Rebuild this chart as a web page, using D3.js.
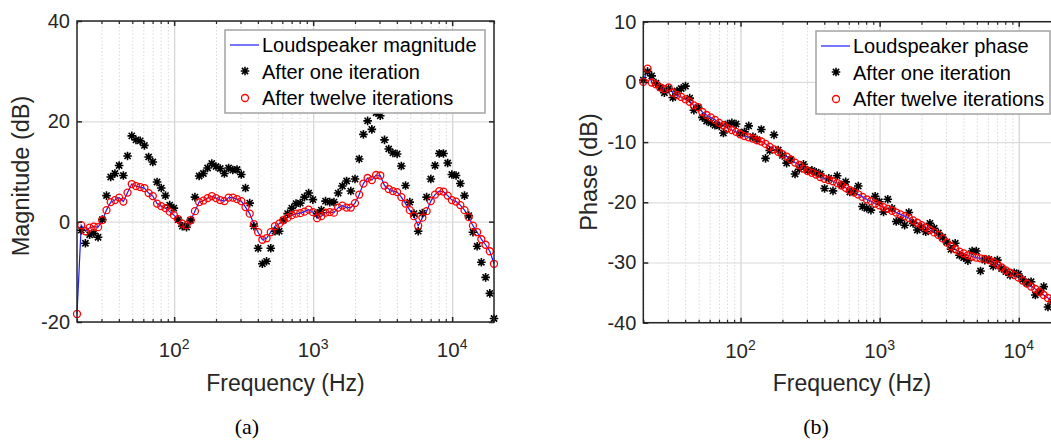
<!DOCTYPE html>
<html>
<head>
<meta charset="utf-8">
<script src="https://cdn.jsdelivr.net/npm/d3@7"></script>
<style>
body { margin:0; background:#fff; }
svg { display:block; font-family:"Liberation Sans", Arial, sans-serif; }
</style>
</head>
<body>
<div id="chart"></div>
<script>
// Frequency grid (Hz)
let freqs = [20, 21.45, 22.99, 24.65, 26.44, 28.35, 30.40, 32.60, 34.96, 37.48,
  40.19, 43.10, 46.21, 49.55, 53.13, 56.97, 61.09, 65.51, 70.24, 75.32,
  80.76, 86.60, 92.86, 99.54, 106.7, 114.5, 122.7, 131.6, 141.1, 151.3,
  162.2, 174.0, 186.6, 200.0, 214.5, 229.9, 246.5, 264.4, 283.5, 304.0,
  326.0, 349.6, 374.8, 401.9, 431.0, 462.1, 495.5, 531.3, 569.7, 610.9,
  655.1, 702.4, 753.2, 807.6, 866.0, 928.6, 995.4, 1067, 1145, 1227,
  1316, 1411, 1513, 1622, 1740, 1866, 2000, 2145, 2299, 2465,
  2644, 2835, 3040, 3260, 3496, 3748, 4019, 4310, 4621, 4955,
  5313, 5697, 6109, 6551, 7024, 7532, 8076, 8660, 9286, 9954,
  10670, 11450, 12270, 13160, 14110, 15130, 16220, 17400, 18660, 20000];

// (a) magnitude, dB
let magSpeaker = [-18.4, -0.7, -1.9, -1.2, -1.0, -1.1, 0.3, 2.3, 3.9, 4.3,
  4.8, 4.0, 5.8, 7.5, 7.1, 6.9, 6.7, 5.7, 5.1, 3.6,
  3.1, 2.7, 2.0, 1.3, 0.5, -0.4, -0.7, 0.3, 2.1, 3.9,
  4.2, 4.7, 5.1, 4.7, 4.3, 4.1, 4.8, 4.8, 4.5, 4.1,
  2.9, 1.6, -0.5, -2.1, -3.6, -3.3, -2.1, -0.9, -0.4, 0.3,
  0.8, 1.3, 1.6, 1.7, 2.0, 2.4, 1.9, 0.7, 1.1, 1.8,
  1.9, 1.8, 2.8, 3.2, 2.8, 2.8, 3.7, 5.4, 7.6, 8.7,
  8.3, 9.3, 9.2, 7.2, 6.5, 6.1, 5.9, 4.9, 3.6, 2.3,
  1.1, -0.8, 0.8, 2.1, 4.1, 5.4, 6.1, 6.0, 5.2, 4.3,
  4.0, 3.3, 2.3, 0.9, -0.8, -2.1, -3.5, -4.6, -5.9, -8.4];

let magOne = [null, -1.7, -4.3, -2.6, -2.3, -3.1, 0.4, 5.2, 8.9, 9.6,
  11.2, 9.2, 13.1, 17.1, 16.3, 16.1, 15.2, 12.9, 11.9, 7.9,
  6.7, 5.2, 3.3, 2.7, 0.4, -0.9, -1.1, 0.3, 4.9, 9.1,
  9.6, 10.7, 11.6, 11.0, 10.6, 9.6, 10.7, 10.3, 10.4, 9.4,
  6.7, 3.7, -0.9, -5.3, -8.4, -7.9, -5.3, -1.9, -1.9, 0.3,
  1.6, 2.7, 3.6, 3.7, 4.9, 5.7, 4.4, 1.6, 2.3, 4.1,
  3.9, 3.9, 5.7, 7.1, 8.1, 6.1, 8.5, 12.5, 17.4, 20.1,
  18.4, 21.7, 21.1, 16.3, 14.5, 13.7, 13.5, 11.1, 7.2, 3.9,
  1.6, -1.9, 1.7, 4.9, 8.5, 11.2, 13.6, 13.6, 11.7, 9.4,
  9.2, 7.6, 5.2, 1.2, -2.1, -4.9, -8.1, -11.1, -14.3, -19.3];

let magTwelve = [-18.4, -0.7, -1.9, -1.2, -1.0, -1.1, 0.3, 2.3, 3.9, 4.3,
  4.8, 4.0, 5.8, 7.5, 7.1, 6.9, 6.7, 5.7, 5.1, 3.6,
  3.1, 2.7, 2.0, 1.3, 0.5, -0.4, -0.7, 0.3, 2.1, 3.9,
  4.2, 4.7, 5.1, 4.7, 4.3, 4.1, 4.8, 4.8, 4.5, 4.1,
  2.9, 1.6, -0.5, -2.1, -3.6, -3.3, -2.1, -0.9, -0.4, 0.3,
  0.8, 1.3, 1.6, 1.7, 2.0, 2.4, 1.9, 0.7, 1.1, 1.8,
  1.9, 1.8, 2.8, 3.2, 2.8, 2.8, 3.7, 5.4, 7.6, 8.7,
  8.3, 9.3, 9.2, 7.2, 6.5, 6.1, 5.9, 4.9, 3.6, 2.3,
  1.1, -0.8, 0.8, 2.1, 4.1, 5.4, 6.1, 6.0, 5.2, 4.3,
  4.0, 3.3, 2.3, 0.9, -0.8, -2.1, -3.5, -4.6, -5.9, -8.4];

// (b) phase
let phaseSpeaker = [0.0, 2.2, -0.1, -0.4, -0.9, -1.2, -0.9, -1.8, -2.2, -2.5,
  -2.9, -3.3, -3.9, -4.2, -5.0, -5.5, -5.9, -6.3, -6.8, -7.2,
  -7.7, -8.0, -8.3, -8.7, -9.0, -9.2, -9.4, -9.7, -9.9, -10.3,
  -10.8, -11.2, -11.6, -12.0, -12.4, -12.9, -13.4, -13.8, -14.4, -14.8,
  -15.1, -15.4, -15.8, -16.1, -16.3, -16.5, -16.8, -17.2, -17.6, -18.0,
  -18.4, -18.7, -19.1, -19.5, -19.8, -20.2, -20.5, -20.8, -21.1, -21.4,
  -21.7, -22.0, -22.3, -22.6, -23.0, -23.4, -23.8, -24.2, -24.6, -25.0,
  -25.4, -26.0, -26.7, -27.3, -27.8, -28.2, -28.5, -28.8, -29.0, -29.2,
  -29.3, -29.4, -29.6, -29.9, -30.3, -30.8, -31.3, -31.7, -32.1, -32.5,
  -33.0, -33.5, -34.0, -34.4, -34.9, -35.4, -35.9, -36.3, -36.8, -37.3];

let phaseOne = [0.3, 1.7, 1.0, -0.2, -0.9, -1.8, -1.1, -2.6, -1.5, -1.1,
  -0.7, -2.7, -4.7, -4.2, -5.9, -6.5, -6.8, -7.2, -7.3, -8.5,
  -7.0, -6.8, -7.0, -8.6, -8.3, -7.3, -9.1, -9.6, -7.9, -12.7,
  -11.4, -8.8, -11.3, -12.2, -13.5, -12.9, -15.3, -14.5, -13.7, -14.7,
  -14.7, -15.0, -15.3, -17.7, -16.0, -18.1, -15.6, -17.1, -16.6, -18.3,
  -18.2, -17.3, -20.7, -21.0, -21.3, -19.0, -19.9, -21.6, -19.5, -21.0,
  -23.2, -23.0, -23.8, -21.7, -23.5, -24.6, -24.1, -24.9, -23.5, -24.3,
  -25.1, -25.8, -26.6, -27.8, -26.8, -28.8, -29.2, -29.7, -28.1, -28.1,
  -31.4, -29.6, -29.5, -30.6, -29.6, -31.0, -31.5, -32.1, -31.7, -31.9,
  -32.8, -33.4, -33.2, -35.4, -34.9, -34.0, -37.4, -36.5, -37.0, -37.5];

let phaseTwelve = [0.0, 2.2, -0.1, -0.4, -0.9, -1.2, -0.9, -1.8, -2.2, -2.5,
  -2.9, -3.3, -3.9, -4.2, -5.0, -5.5, -5.9, -6.3, -6.8, -7.2,
  -7.7, -8.0, -8.3, -8.7, -9.0, -9.2, -9.4, -9.7, -9.9, -10.3,
  -10.8, -11.2, -11.6, -12.0, -12.4, -12.9, -13.4, -13.8, -14.4, -14.8,
  -15.1, -15.4, -15.8, -16.1, -16.3, -16.5, -16.8, -17.2, -17.6, -18.0,
  -18.4, -18.7, -19.1, -19.5, -19.8, -20.2, -20.5, -20.8, -21.1, -21.4,
  -21.7, -22.0, -22.3, -22.6, -23.0, -23.4, -23.8, -24.2, -24.6, -25.0,
  -25.4, -26.0, -26.7, -27.3, -27.8, -28.2, -28.5, -28.8, -29.0, -29.2,
  -29.3, -29.4, -29.6, -29.9, -30.3, -30.8, -31.3, -31.7, -32.1, -32.5,
  -33.0, -33.5, -34.0, -34.4, -34.9, -35.4, -35.9, -36.3, -36.8, -37.3];

let majorFreqs = [100, 1000, 10000];
let magTicks = [-20, 0, 20, 40];
let phaseTicks = [-40, -30, -20, -10, 0, 10];

let svg = d3.select('#chart')
            .append('svg')
            .attr('width', 1051)
            .attr('height', 440);

let axisColor = '#262626';
let starPath = 'M-4.3,0H4.3M0,-4.3V4.3M-3.1,-3.1L3.1,3.1M-3.1,3.1L3.1,-3.1';

function drawPanel(p){
  let x = d3.scaleLog().domain([20, 20000]).range([p.left, p.right]);
  let y = d3.scaleLinear().domain(p.yDomain).range([p.bottom, p.top]);
  let w = p.right - p.left, h = p.bottom - p.top;
  let g = svg.append('g');
  let minor = x.ticks().filter(d => !majorFreqs.includes(d));

  //Minor vertical grid (dotted)
  g.append('g')
   .attr('transform', `translate(0,${p.bottom})`)
   .call(d3.axisBottom(x).tickValues(minor).tickSize(-h).tickFormat(''))
   .call(a => a.select('.domain').remove())
   .selectAll('line')
   .attr('stroke', '#d9d9d9')
   .attr('stroke-dasharray', '1.5,2');

  //Major grid
  g.append('g')
   .attr('transform', `translate(0,${p.bottom})`)
   .call(d3.axisBottom(x).tickValues(majorFreqs).tickSize(-h).tickFormat(''))
   .call(a => a.select('.domain').remove())
   .selectAll('line')
   .attr('stroke', '#d6d6d6')
   .attr('stroke-width', 1.3);

  g.append('g')
   .attr('transform', `translate(${p.left},0)`)
   .call(d3.axisLeft(y).tickValues(p.yTicks).tickSize(-w).tickFormat(''))
   .call(a => a.select('.domain').remove())
   .selectAll('line')
   .attr('stroke', '#dcdcdc')
   .attr('stroke-width', 1.2);

  let rows = k => freqs.map((f, i) => ({f: f, v: k[i]})).filter(d => d.v != null);

  //Loudspeaker response line
  g.append('path')
   .datum(rows(p.speaker))
   .attr('fill', 'none')
   .attr('stroke', '#1a1aff')
   .attr('stroke-width', 1.2)
   .attr('d', d3.line().x(d => x(d.f)).y(d => y(d.v)));

  //After one iteration
  g.selectAll('.star')
   .data(rows(p.one))
   .join('path')
   .attr('class', 'star')
   .attr('d', starPath)
   .attr('transform', d => `translate(${x(d.f)},${y(d.v)})`)
   .attr('stroke', '#000')
   .attr('stroke-width', 1.6)
   .attr('fill', 'none');

  //After twelve iterations
  g.selectAll('.circ')
   .data(rows(p.twelve))
   .join('circle')
   .attr('class', 'circ')
   .attr('cx', d => x(d.f))
   .attr('cy', d => y(d.v))
   .attr('r', 3.5)
   .attr('fill', 'none')
   .attr('stroke', '#ff0000')
   .attr('stroke-width', 1.3);

  //Frame
  g.append('rect')
   .attr('x', p.left).attr('y', p.top)
   .attr('width', w).attr('height', h)
   .attr('fill', 'none')
   .attr('stroke', axisColor)
   .attr('stroke-width', 1.5);

  //Ticks on all four sides, pointing inwards
  let tickSides = [
    {axis: d3.axisBottom, pos: `translate(0,${p.bottom})`},
    {axis: d3.axisTop, pos: `translate(0,${p.top})`}
  ];
  tickSides.forEach(s => {
    g.append('g').attr('transform', s.pos)
     .call(s.axis(x).tickValues(minor).tickSize(-3).tickFormat(''))
     .call(a => a.select('.domain').remove())
     .selectAll('line').attr('stroke', axisColor).attr('stroke-width', 1.2);
    g.append('g').attr('transform', s.pos)
     .call(s.axis(x).tickValues(majorFreqs).tickSize(-5).tickFormat(''))
     .call(a => a.select('.domain').remove())
     .selectAll('line').attr('stroke', axisColor).attr('stroke-width', 1.5);
  });

  let yl = g.append('g')
   .attr('transform', `translate(${p.left},0)`)
   .call(d3.axisLeft(y).tickValues(p.yTicks).tickSize(-5).tickPadding(7).tickFormat(d => String(d)))
   .call(a => a.select('.domain').remove());
  yl.selectAll('line').attr('stroke', axisColor).attr('stroke-width', 1.5);
  yl.selectAll('text')
    .attr('fill', axisColor)
    .style('font-size', '20px')
    .style('font-family', '"Liberation Sans", Arial, sans-serif');

  g.append('g')
   .attr('transform', `translate(${p.right},0)`)
   .call(d3.axisRight(y).tickValues(p.yTicks).tickSize(-5).tickFormat(''))
   .call(a => a.select('.domain').remove())
   .selectAll('line').attr('stroke', axisColor).attr('stroke-width', 1.5);

  //Power-of-ten labels
  let xl = g.selectAll('.xlab')
   .data(majorFreqs)
   .join('text')
   .attr('class', 'xlab')
   .attr('x', d => x(d))
   .attr('y', p.bottom + 35)
   .attr('text-anchor', 'middle')
   .attr('fill', axisColor)
   .style('font-size', '20.5px');
  xl.append('tspan').text('10');
  xl.append('tspan')
    .attr('dy', -8)
    .style('font-size', '14px')
    .text(d => Math.round(Math.log10(d)));

  g.append('text')
   .attr('x', (p.left + p.right) / 2)
   .attr('y', 391)
   .attr('text-anchor', 'middle')
   .attr('fill', axisColor)
   .style('font-size', '23px')
   .text('Frequency (Hz)');

  g.append('text')
   .attr('transform', `translate(${p.ylabX},${p.ylabY}) rotate(-90)`)
   .attr('text-anchor', 'middle')
   .attr('fill', axisColor)
   .style('font-size', '23.5px')
   .text(p.ylabel);

  g.append('text')
   .attr('x', p.capX)
   .attr('y', 434)
   .attr('text-anchor', 'middle')
   .attr('fill', '#000')
   .style('font-family', '"Liberation Serif", "DejaVu Serif", serif')
   .style('font-size', '22px')
   .text(p.caption);

  //Legend
  let L = p.legend;
  let lg = g.append('g');
  lg.append('rect')
    .attr('x', L.x).attr('y', L.y)
    .attr('width', L.w).attr('height', L.h)
    .attr('fill', '#fff')
    .attr('stroke', '#a3a3a3')
    .attr('stroke-width', 1.5);
  lg.append('line')
    .attr('x1', L.x + 5).attr('x2', L.x + 34)
    .attr('y1', L.y + 15).attr('y2', L.y + 15)
    .attr('stroke', '#1a1aff').attr('stroke-width', 1.2);
  lg.append('path')
    .attr('d', starPath)
    .attr('transform', `translate(${L.x + 20},${L.y + 41})`)
    .attr('stroke', '#000').attr('stroke-width', 1.6);
  lg.append('circle')
    .attr('cx', L.x + 20).attr('cy', L.y + 68)
    .attr('r', 3.5)
    .attr('fill', 'none').attr('stroke', '#ff0000').attr('stroke-width', 1.3);
  lg.selectAll('.ltxt')
    .data(p.legendText)
    .join('text')
    .attr('class', 'ltxt')
    .attr('x', L.x + 37)
    .attr('y', (d, i) => L.y + 22 + i * 26.5)
    .attr('fill', '#000')
    .style('font-size', '20px')
    .text(d => d);
}

drawPanel({
  left: 77, right: 494, top: 21, bottom: 322,
  yDomain: [-20, 40], yTicks: magTicks,
  speaker: magSpeaker, one: magOne, twelve: magTwelve,
  ylabel: 'Magnitude (dB)', ylabX: 29, ylabY: 176,
  caption: '(a)', capX: 247,
  legend: {x: 225, y: 30, w: 260, h: 83},
  legendText: ['Loudspeaker magnitude', 'After one iteration', 'After twelve iterations']
});

drawPanel({
  left: 643.3, right: 1060.6, top: 21.7, bottom: 322.7,
  yDomain: [-40, 10], yTicks: phaseTicks,
  speaker: phaseSpeaker, one: phaseOne, twelve: phaseTwelve,
  ylabel: 'Phase (dB)', ylabX: 597, ylabY: 172,
  caption: '(b)', capX: 816,
  legend: {x: 816, y: 31, w: 234, h: 83},
  legendText: ['Loudspeaker phase', 'After one iteration', 'After twelve iterations']
});
</script>
</body>
</html>
